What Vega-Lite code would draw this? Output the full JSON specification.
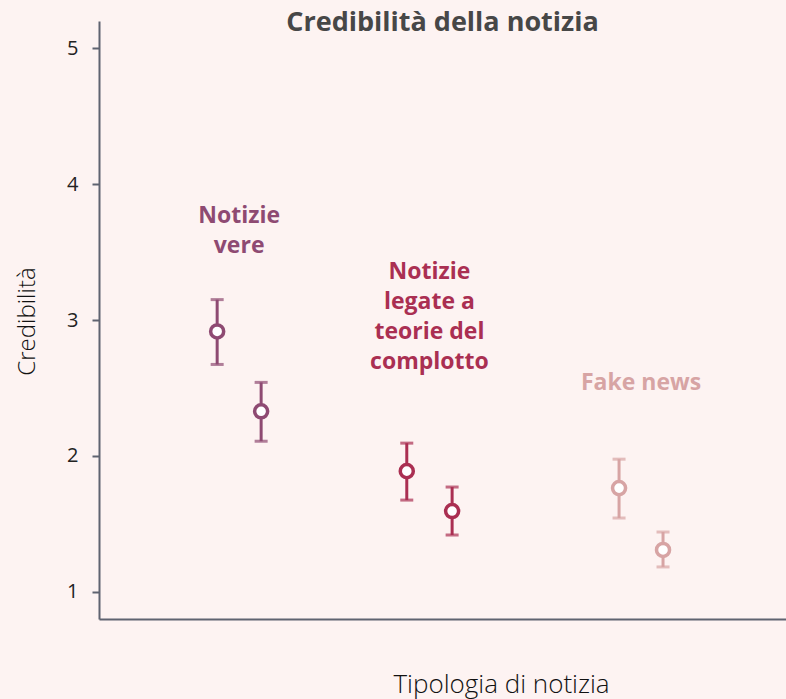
{
  "$schema": "https://vega.github.io/schema/vega-lite/v6.json",
  "width": 687,
  "height": 598,
  "autosize": {"type": "none"},
  "padding": {"left": 99, "top": 21, "right": 0, "bottom": 80},
  "background": "#fdf3f2",
  "config": {"view": {"stroke": null}, "font": "Open Sans"},
  "title": {"text": "Credibilità della notizia", "fontSize": 27, "fontWeight": "bold", "color": "#474747", "anchor": "middle", "frame": "group", "offset": -29, "baseline": "middle", "font": "Open Sans"},
  "datasets": {
    "punti": [
      {"gruppo": "Notizie vere", "pos": 1.72, "media": 2.916, "inf": 2.673, "sup": 3.15},
      {"gruppo": "Notizie vere", "pos": 2.36, "media": 2.328, "inf": 2.108, "sup": 2.541},
      {"gruppo": "Complotto", "pos": 4.48, "media": 1.888, "inf": 1.675, "sup": 2.094},
      {"gruppo": "Complotto", "pos": 5.14, "media": 1.594, "inf": 1.418, "sup": 1.771},
      {"gruppo": "Fake news", "pos": 7.57, "media": 1.763, "inf": 1.543, "sup": 1.976},
      {"gruppo": "Fake news", "pos": 8.21, "media": 1.308, "inf": 1.183, "sup": 1.44}
    ],
    "etichette": [
      {"gruppo": "Notizie vere", "pos": 2.04, "y": 3.767, "testo": "Notizie\nvere"},
      {"gruppo": "Complotto", "pos": 4.81, "y": 3.356, "testo": "Notizie\nlegate a\nteorie del\ncomplotto"},
      {"gruppo": "Fake news", "pos": 7.89, "y": 2.534, "testo": "Fake news"}
    ]
  },
  "encoding": {
    "color": {"field": "gruppo", "type": "nominal", "legend": null,
      "scale": {"domain": ["Notizie vere", "Complotto", "Fake news"], "range": ["#8e4a72", "#aa2f52", "#d7a4a4"]}}
  },
  "layer": [
    {
      "data": {"name": "punti"},
      "mark": {"type": "rule", "strokeWidth": 3},
      "encoding": {
        "x": {"field": "pos", "type": "quantitative", "scale": {"domain": [0, 10]},
          "axis": {"title": "Tipologia di notizia", "labels": false, "ticks": false, "grid": false,
            "domainColor": "#5f6370", "domainWidth": 2, "titleFont": "Open Sans", "titleFontSize": 26, "titleFontWeight": 300,
            "titleColor": "#111", "titleX": 402, "titleY": 73, "titleBaseline": "alphabetic"}},
        "y": {"field": "inf", "type": "quantitative", "scale": {"domain": [0.8, 5.2], "nice": false, "zero": false},
          "axis": {"title": "Credibilità", "values": [1, 2, 3, 4, 5], "format": "d", "grid": false,
            "domainColor": "#5f6370", "domainWidth": 2, "tickColor": "#5f6370", "tickWidth": 2, "tickSize": 7,
            "labelFont": "Open Sans", "labelFontSize": 20, "labelColor": "#222", "labelPadding": 14,
            "titleFont": "Open Sans", "titleFontSize": 24, "titleFontWeight": 300, "titleColor": "#111",
            "titleX": -72, "titleY": 300, "titleBaseline": "middle"}},
        "y2": {"field": "sup"}
      }
    },
    {
      "data": {"name": "punti"},
      "mark": {"type": "tick", "orient": "horizontal", "thickness": 3, "size": 13},
      "encoding": {
        "x": {"field": "pos", "type": "quantitative"},
        "y": {"field": "inf", "type": "quantitative"}
      }
    },
    {
      "data": {"name": "punti"},
      "mark": {"type": "tick", "orient": "horizontal", "thickness": 3, "size": 13},
      "encoding": {
        "x": {"field": "pos", "type": "quantitative"},
        "y": {"field": "sup", "type": "quantitative"}
      }
    },
    {
      "data": {"name": "punti"},
      "mark": {"type": "point", "shape": "circle", "filled": false, "fill": "white", "fillOpacity": 1, "strokeWidth": 3.5, "size": 170, "opacity": 1},
      "encoding": {
        "x": {"field": "pos", "type": "quantitative"},
        "y": {"field": "media", "type": "quantitative"},
        "stroke": {"field": "gruppo", "type": "nominal", "legend": null,
          "scale": {"domain": ["Notizie vere", "Complotto", "Fake news"], "range": ["#8e4a72", "#aa2f52", "#d7a4a4"]}}
      }
    },
    {
      "data": {"name": "etichette"},
      "mark": {"type": "text", "font": "Open Sans", "fontSize": 23, "fontWeight": "bold", "align": "center", "baseline": "middle", "lineHeight": 30, "lineBreak": "\n"},
      "encoding": {
        "x": {"field": "pos", "type": "quantitative"},
        "y": {"field": "y", "type": "quantitative"},
        "text": {"field": "testo"}
      }
    }
  ]
}
